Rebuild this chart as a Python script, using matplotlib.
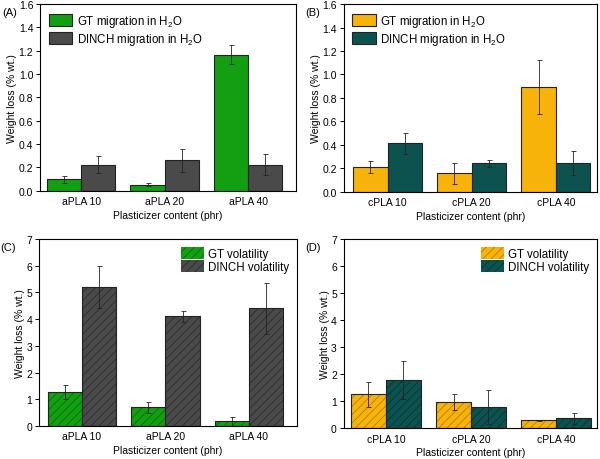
import matplotlib
matplotlib.use("Agg")
import matplotlib.pyplot as plt
import numpy as np

plt.rcParams['font.family'] = ['Liberation Sans', 'DejaVu Sans']
plt.rcParams['mathtext.default'] = 'regular'
plt.rcParams['font.size'] = 7.5
plt.rcParams['hatch.linewidth'] = 0.55

# colours from the reference
green = '#12a012'
green_h = '#0a6a0a'
grey = '#4a4a4a'
grey_h = '#2a2a2a'
orange = '#f7b30a'
orange_h = '#b07a00'
teal = '#0c5350'
teal_h = '#063330'

a_labels = ['aPLA 10', 'aPLA 20', 'aPLA 40']
c_labels = ['cPLA 10', 'cPLA 20', 'cPLA 40']

# (A) migration in water, aPLA
a_gt_mig = [0.10, 0.054, 1.165]
a_gt_mig_err = [0.03, 0.01, 0.08]
a_dinch_mig = [0.225, 0.26, 0.223]
a_dinch_mig_err = [0.07, 0.10, 0.09]

# (B) migration in water, cPLA
c_gt_mig = [0.21, 0.156, 0.894]
c_gt_mig_err = [0.05, 0.09, 0.23]
c_dinch_mig = [0.414, 0.244, 0.244]
c_dinch_mig_err = [0.09, 0.03, 0.10]

# (C) volatility, aPLA
a_gt_vol = [1.26, 0.69, 0.18]
a_gt_vol_err = [0.27, 0.20, 0.17]
a_dinch_vol = [5.21, 4.10, 4.40]
a_dinch_vol_err = [0.78, 0.20, 0.96]

# (D) volatility, cPLA
c_gt_vol = [1.25, 0.97, 0.285]
c_gt_vol_err = [0.45, 0.30, 0.02]
c_dinch_vol = [1.77, 0.77, 0.36]
c_dinch_vol_err = [0.70, 0.63, 0.20]

width = 0.41


def bars(ax, x, vals, errs, face, hatch_col, label, hatched):
    if hatched:
        ax.bar(x, vals, width, color=face, edgecolor=hatch_col, hatch='////',
               linewidth=0, label=label)
        ax.bar(x, vals, width, fill=False, edgecolor='#222222', linewidth=0.8)
    else:
        ax.bar(x, vals, width, color=face, edgecolor='#222222', linewidth=0.8,
               label=label)
    ax.errorbar(x, vals, yerr=errs, fmt='none', ecolor='#222222',
                elinewidth=0.6, capsize=1.8, capthick=0.6)


def panel(rect, tag, labels, gt, gt_err, dn, dn_err, cols, names, ylim,
          yticks, xlim, loc, hatched):
    ax = fig.add_axes(rect)
    x = np.arange(len(labels))
    bars(ax, x - width / 2, gt, gt_err, cols[0], cols[1], names[0], hatched)
    bars(ax, x + width / 2, dn, dn_err, cols[2], cols[3], names[1], hatched)
    ax.set_xlim(*xlim)
    ax.set_ylim(*ylim)
    ax.set_yticks(yticks)
    if ylim[1] < 2:
        ax.set_yticklabels([f'{v:.1f}' for v in yticks])
    ax.set_xticks(x)
    ax.set_xticklabels(labels)
    ax.tick_params(axis='x', length=0, pad=4)
    ax.tick_params(axis='y', length=3, width=0.7, direction='out', pad=2)
    for s in ax.spines.values():
        s.set_linewidth(0.8)
    ax.set_xlabel('Plasticizer content (phr)', labelpad=2.5)
    ax.set_ylabel('Weight loss (% wt.)', labelpad=1)
    if hatched:
        ax.legend(loc=loc, frameon=False, fontsize=8.3, handlelength=2.0,
                  handleheight=1.25, handletextpad=0.4, labelspacing=0.02,
                  borderaxespad=0.35, borderpad=0.3)
    else:
        ax.legend(loc=loc, frameon=False, fontsize=8.3, handlelength=2.0,
                  handleheight=1.2, handletextpad=0.4, labelspacing=0.2,
                  borderaxespad=0.35, borderpad=0.4)
    fig.text(rect[0] - 0.064, rect[1] + rect[3] - 0.006, tag, fontsize=8,
             va='top', ha='left')
    return ax


fig = plt.figure(figsize=(6, 4.6), dpi=100)

mig_ticks = np.arange(0, 1.61, 0.2)
vol_ticks = np.arange(0, 8, 1)

panel([0.067, 0.583, 0.426, 0.406], '(A)', a_labels, a_gt_mig, a_gt_mig_err,
      a_dinch_mig, a_dinch_mig_err, [green, green_h, grey, grey_h],
      ['GT migration in H$_2$O', 'DINCH migration in H$_2$O'],
      (0, 1.6), mig_ticks, (-0.49, 2.57), 'upper left', False)

panel([0.573, 0.581, 0.422, 0.408], '(B)', c_labels, c_gt_mig, c_gt_mig_err,
      c_dinch_mig, c_dinch_mig_err, [orange, orange_h, teal, teal_h],
      ['GT migration in H$_2$O', 'DINCH migration in H$_2$O'],
      (0, 1.6), mig_ticks, (-0.52, 2.49), 'upper left', False)

panel([0.065, 0.072, 0.430, 0.406], '(C)', a_labels, a_gt_vol, a_gt_vol_err,
      a_dinch_vol, a_dinch_vol_err, [green, green_h, grey, grey_h],
      ['GT volatility', 'DINCH volatility'],
      (0, 7), vol_ticks, (-0.515, 2.575), 'upper right', True)

panel([0.573, 0.067, 0.422, 0.411], '(D)', c_labels, c_gt_vol, c_gt_vol_err,
      c_dinch_vol, c_dinch_vol_err, [orange, orange_h, teal, teal_h],
      ['GT volatility', 'DINCH volatility'],
      (0, 7), vol_ticks, (-0.494, 2.48), 'upper right', True)

fig.savefig('out.png', dpi=100)
